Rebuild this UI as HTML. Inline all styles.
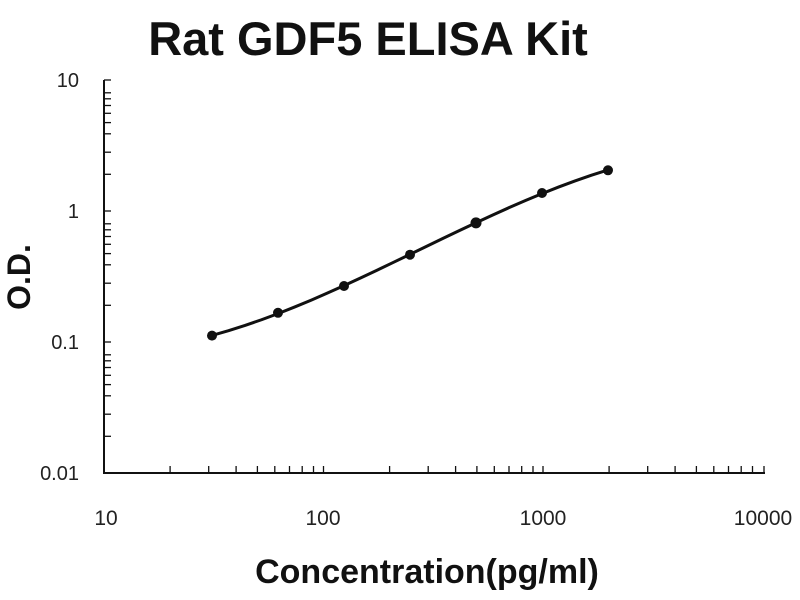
<!DOCTYPE html>
<html><head><meta charset="utf-8"><style>
html,body{margin:0;padding:0;background:#fff;}
svg{display:block;}
</style></head><body>
<svg width="800" height="600" viewBox="0 0 800 600" xmlns="http://www.w3.org/2000/svg">
<rect width="800" height="600" fill="#fff"/>
<text x="368" y="55" text-anchor="middle" font-family="Liberation Sans, Arial, sans-serif" font-weight="bold" font-size="47" fill="#111">Rat GDF5 ELISA Kit</text>
<g stroke="#111" stroke-width="2" fill="none">
<line x1="104" y1="80" x2="104" y2="474"/>
<line x1="103" y1="473" x2="765" y2="473"/>
</g>
<g font-family="Liberation Sans, Arial, sans-serif" font-size="20" fill="#222" text-anchor="end">
<text x="79" y="87">10</text>
<text x="79" y="218">1</text>
<text x="79" y="349">0.1</text>
<text x="79" y="480">0.01</text>
</g>
<g font-family="Liberation Sans, Arial, sans-serif" font-size="21" fill="#222" text-anchor="middle">
<text x="106" y="525">10</text>
<text x="323" y="525">100</text>
<text x="543" y="525">1000</text>
<text x="763" y="525">10000</text>
</g>
<text x="427" y="583" text-anchor="middle" font-family="Liberation Sans, Arial, sans-serif" font-weight="bold" font-size="34" fill="#111">Concentration(pg/ml)</text>
<text transform="translate(30,277) rotate(-90)" text-anchor="middle" font-family="Liberation Sans, Arial, sans-serif" font-weight="bold" font-size="32" fill="#111">O.D.</text>
<polyline points="212,335.4 228.5,330.67 245,325.45 261.5,319.74 278,313.6 294.5,307.08 311,300.21 327.5,293.04 344,285.61 360.5,278.0 377,270.22 393.5,262.33 410,254.36 426.5,246.37 443,238.4 459.5,230.51 476,222.72 492.5,215.09 509,207.67 525.5,200.5 542,193.62 558.5,187.08 575,180.94 591.5,175.22 608,169.98" stroke="#111" stroke-width="3" fill="none" stroke-linejoin="round" stroke-linecap="round"/>
<g fill="#111">
<circle cx="212" cy="335.6" r="5"/>
<circle cx="278" cy="312.8" r="5"/>
<circle cx="344" cy="286" r="5"/>
<circle cx="410" cy="254.7" r="5"/>
<circle cx="476" cy="222.9" r="5.5"/>
<circle cx="542" cy="193" r="5"/>
<circle cx="608" cy="170.3" r="5"/>
</g>
<g stroke="#111" stroke-width="1.3">
<line x1="104" y1="80" x2="111" y2="80"/>
<line x1="104" y1="92.8" x2="111" y2="92.8"/>
<line x1="104" y1="98.8" x2="111" y2="98.8"/>
<line x1="104" y1="105.5" x2="111" y2="105.5"/>
<line x1="104" y1="113.3" x2="111" y2="113.3"/>
<line x1="104" y1="122.6" x2="111" y2="122.6"/>
<line x1="104" y1="133.8" x2="111" y2="133.8"/>
<line x1="104" y1="152.2" x2="111" y2="152.2"/>
<line x1="104" y1="174.3" x2="111" y2="174.3"/>
<line x1="104" y1="211" x2="111" y2="211"/>
<line x1="104" y1="223.8" x2="111" y2="223.8"/>
<line x1="104" y1="229.8" x2="111" y2="229.8"/>
<line x1="104" y1="236.5" x2="111" y2="236.5"/>
<line x1="104" y1="244.3" x2="111" y2="244.3"/>
<line x1="104" y1="253.6" x2="111" y2="253.6"/>
<line x1="104" y1="264.8" x2="111" y2="264.8"/>
<line x1="104" y1="283.2" x2="111" y2="283.2"/>
<line x1="104" y1="305.3" x2="111" y2="305.3"/>
<line x1="104" y1="342" x2="111" y2="342"/>
<line x1="104" y1="354.8" x2="111" y2="354.8"/>
<line x1="104" y1="360.8" x2="111" y2="360.8"/>
<line x1="104" y1="367.5" x2="111" y2="367.5"/>
<line x1="104" y1="375.3" x2="111" y2="375.3"/>
<line x1="104" y1="384.6" x2="111" y2="384.6"/>
<line x1="104" y1="395.8" x2="111" y2="395.8"/>
<line x1="104" y1="414.2" x2="111" y2="414.2"/>
<line x1="104" y1="436.3" x2="111" y2="436.3"/>
<line x1="170.1" y1="473" x2="170.1" y2="466"/>
<line x1="208.7" y1="473" x2="208.7" y2="466"/>
<line x1="236.1" y1="473" x2="236.1" y2="466"/>
<line x1="257.4" y1="473" x2="257.4" y2="466"/>
<line x1="274.8" y1="473" x2="274.8" y2="466"/>
<line x1="289.5" y1="473" x2="289.5" y2="466"/>
<line x1="302.2" y1="473" x2="302.2" y2="466"/>
<line x1="313.5" y1="473" x2="313.5" y2="466"/>
<line x1="323.5" y1="473" x2="323.5" y2="466"/>
<line x1="389.6" y1="473" x2="389.6" y2="466"/>
<line x1="428.2" y1="473" x2="428.2" y2="466"/>
<line x1="455.6" y1="473" x2="455.6" y2="466"/>
<line x1="476.9" y1="473" x2="476.9" y2="466"/>
<line x1="494.3" y1="473" x2="494.3" y2="466"/>
<line x1="509" y1="473" x2="509" y2="466"/>
<line x1="521.7" y1="473" x2="521.7" y2="466"/>
<line x1="533" y1="473" x2="533" y2="466"/>
<line x1="543" y1="473" x2="543" y2="466"/>
<line x1="609.1" y1="473" x2="609.1" y2="466"/>
<line x1="647.7" y1="473" x2="647.7" y2="466"/>
<line x1="675.1" y1="473" x2="675.1" y2="466"/>
<line x1="696.4" y1="473" x2="696.4" y2="466"/>
<line x1="713.8" y1="473" x2="713.8" y2="466"/>
<line x1="728.5" y1="473" x2="728.5" y2="466"/>
<line x1="741.2" y1="473" x2="741.2" y2="466"/>
<line x1="752.5" y1="473" x2="752.5" y2="466"/>
<line x1="764" y1="473" x2="764" y2="466"/>
</g>
</svg>
</body></html>
